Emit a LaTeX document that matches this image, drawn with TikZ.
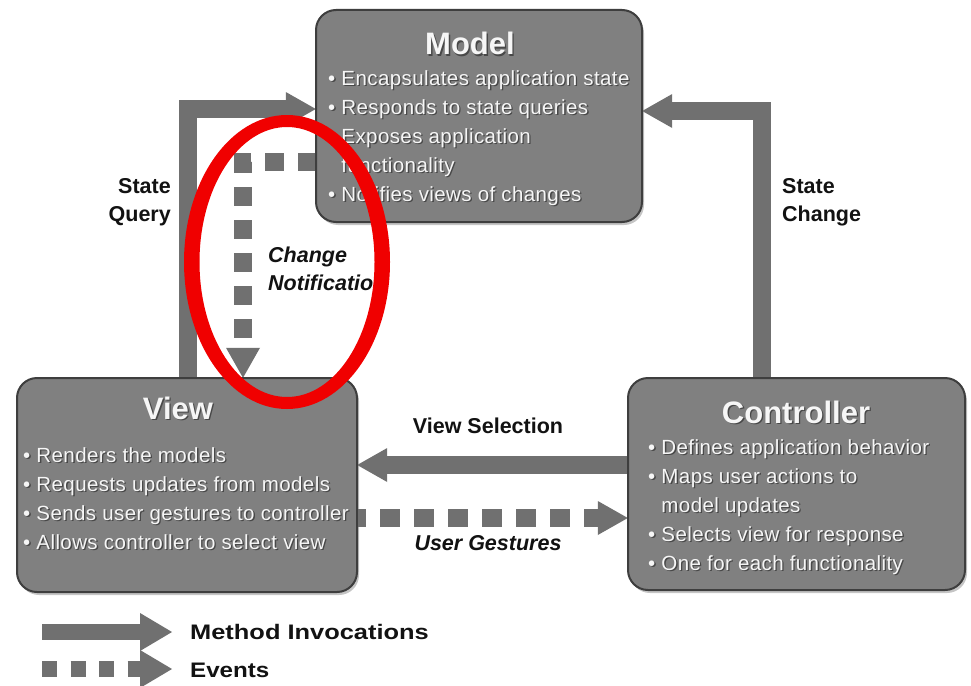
\documentclass[tikz,border=0pt]{standalone}
\usepackage{fontspec}
\usepackage{graphicx}
\setmainfont{Liberation Sans}
\newfontfamily\boxfont[LetterSpace=2]{Liberation Sans}
\usetikzlibrary{arrows.meta,shadows,calc}

\definecolor{boxfill}{RGB}{128,128,128}
\definecolor{boxline}{RGB}{62,62,62}
\definecolor{flow}{RGB}{112,112,112}
\definecolor{ink}{RGB}{18,18,18}
\definecolor{boxtext}{RGB}{246,246,246}
\definecolor{textshade}{RGB}{72,72,72}
\definecolor{ringred}{RGB}{240,0,0}

% multi-line text block whose baseline is that of its first line
\newcommand\linesleft[2]{\parbox[t]{#1}{\raggedright #2}}
\newcommand\linesright[2]{\parbox[t]{#1}{\raggedleft #2}}
% white lettering with a dark offset copy beneath it
\newcommand\embossed[1]{\leavevmode\rlap{\hspace{1.3pt}\raisebox{-1.3pt}{\textcolor{textshade}{#1}}}#1}
\newcommand\bitem[1]{\embossed{\textbullet\ #1}}
\newcommand\bcont[1]{\phantom{\textbullet\ }\embossed{#1}}

\tikzset{
  comp/.style={draw=boxline, line width=2pt, fill=boxfill, rounded corners=20pt,
    drop shadow={opacity=0.45, shadow xshift=2pt, shadow yshift=-3pt}, inner sep=0pt},
  title/.style={text=boxtext, font=\bfseries\fontsize{31}{31}\selectfont, anchor=base, inner sep=0pt},
  body/.style={text=boxtext, font=\boxfont\fontsize{20.5}{29}\selectfont, anchor=base west, inner sep=0pt},
  tipshape/.style={-{Triangle[width=34pt,length=30pt,line width=0pt]}},
  call/.style={draw=flow, line width=18pt, line join=miter, tipshape},
  event/.style={call, dash pattern=on 19pt off 14pt},
  lbl/.style={text=ink, font=\bfseries\fontsize{21.5}{28}\selectfont, inner sep=0pt},
  itlbl/.style={text=ink, font=\bfseries\itshape\fontsize{21.5}{28}\selectfont, inner sep=0pt},
  legendtext/.style={text=ink, font=\bfseries\fontsize{21}{21}\selectfont, inner sep=0pt, anchor=base west},
}

\begin{document}
\begin{tikzpicture}[x=1pt,y=-1pt]
\useasboundingbox[fill=white] (0,0) rectangle (971,685);

% component outlines (placed first so the connectors can refer to them)
\path
  node[minimum width=326pt, minimum height=212pt, inner sep=0pt] (model) at (479,116) {}
  node[minimum width=340pt, minimum height=214pt, inner sep=0pt] (view) at (187,485) {}
  node[minimum width=337pt, minimum height=212pt, inner sep=0pt] (controller) at (796.5,484) {};

% turning points and rows of the connectors
\coordinate (sqturn) at (188,109);
\coordinate (scturn) at (762,111);
\coordinate (cnturn) at (243,162);
\coordinate (vsrow) at (490,465);
\coordinate (ugrow) at (490,518);

% method invocations
\draw[call] (sqturn |- view.north) -- (sqturn) -- (sqturn -| model.west);
\draw[call] (scturn |- controller.north) -- (scturn) -- (scturn -| model.east);
\draw[call] (controller.west |- vsrow) -- (view.east |- vsrow);

% events
\draw[event, dash phase=1pt] (cnturn -| model.west) -- (cnturn) -- (cnturn |- view.north);
\draw[event, dash pattern=on 20pt off 14pt, dash phase=11pt] (view.east |- ugrow) -- (controller.west |- ugrow);

% boxes drawn over the connector ends
\node[comp, minimum width=326pt, minimum height=212pt] (modelbox) at (model) {};
\node[comp, minimum width=340pt, minimum height=214pt] (viewbox) at (view) {};
\node[comp, minimum width=337pt, minimum height=212pt] (controllerbox) at (controller) {};

% box contents
\node[title] (modeltitle) at (470,55) {\embossed{Model}};
\node[body] (modelbody) at (328,85) {\linesleft{320pt}{%
  \bitem{Encapsulates application state}\\
  \bitem{Responds to state queries}\\
  \bitem{Exposes application}\\
  \bcont{functionality}\\
  \bitem{Notifies views of changes}}};

\node[title] (viewtitle) at (178,419) {\embossed{View}};
\node[body] (viewbody) at (23,462) {\linesleft{350pt}{%
  \bitem{Renders the models}\\
  \bitem{Requests updates from models}\\
  \bitem{Sends user gestures to controller}\\
  \bitem{Allows controller to select view}}};

\node[title] (controllertitle) at (796,423) {\embossed{Controller}};
\node[body] (controllerbody) at (648,454) {\linesleft{320pt}{%
  \bitem{Defines application behavior}\\
  \bitem{Maps user actions to}\\
  \bcont{model updates}\\
  \bitem{Selects view for response}\\
  \bitem{One for each functionality}}};

% connector labels
\node[lbl, anchor=base east] (sqlabel) at (171,193) {\linesright{90pt}{State\\Query}};
\node[lbl, anchor=base west] (sclabel) at (782,193) {\linesleft{100pt}{State\\Change}};
\node[lbl, anchor=base] (vslabel) at (488,433) {View Selection};
\node[itlbl, anchor=base] (uglabel) at (488,550) {User Gestures};
\node[itlbl, anchor=base west] (cnlabel) at (268,262) {\linesleft{140pt}{Change\\Notification}};

% legend
\coordinate (legm1) at (42,632);
\coordinate (legm2) at (172,632);
\coordinate (lege1) at (42,669);
\coordinate (lege2) at (172,669);
\draw[call, line width=16pt, -{Triangle[width=38pt,length=32pt,line width=0pt]}] (legm1) -- (legm2);
\draw[call, line width=16pt, dash pattern=on 15pt off 13.5pt,
      -{Triangle[width=38pt,length=32pt,line width=0pt]}] (lege1) -- (lege2);
\node[legendtext] (legmtext) at (190,639) {\scalebox{1.21}[1]{Method Invocations}};
\node[legendtext] (legetext) at (190,677) {\scalebox{1.15}[1]{Events}};

% red highlight ring
\fill[ringred, even odd rule] (287,262) ellipse [x radius=103, y radius=147]
                               (287,262) ellipse [x radius=87.5, y radius=135];
\end{tikzpicture}
\end{document}
